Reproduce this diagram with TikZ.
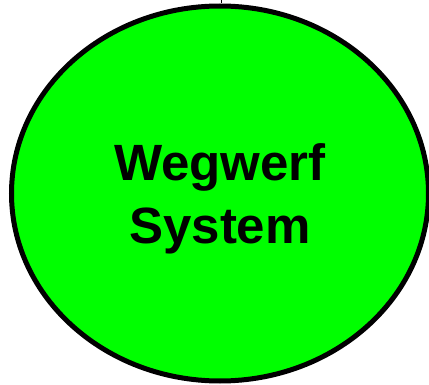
\documentclass[tikz,border=0pt]{standalone}
\usepackage{fontspec}
\setmainfont{Liberation Sans}
\usetikzlibrary{shapes.geometric}

\tikzset{
  sysnode/.style={ellipse,draw=black,line width=5pt,fill={rgb,255:red,0;green,255;blue,0},
    minimum width=417pt,minimum height=375pt,inner sep=0pt,align=center,text depth=0pt,
    font=\fontsize{51}{63}\selectfont\bfseries}
}

\begin{document}
\begin{tikzpicture}[x=1pt,y=-1pt]
\useasboundingbox (0,0) rectangle (429,385);
\node[sysnode] (sys) at (220,193.5) {Wegwerf\\System};
\coordinate (top) at (221,0);
\draw[line width=1pt] (top) -- (sys.north -| top);
\end{tikzpicture}
\end{document}
